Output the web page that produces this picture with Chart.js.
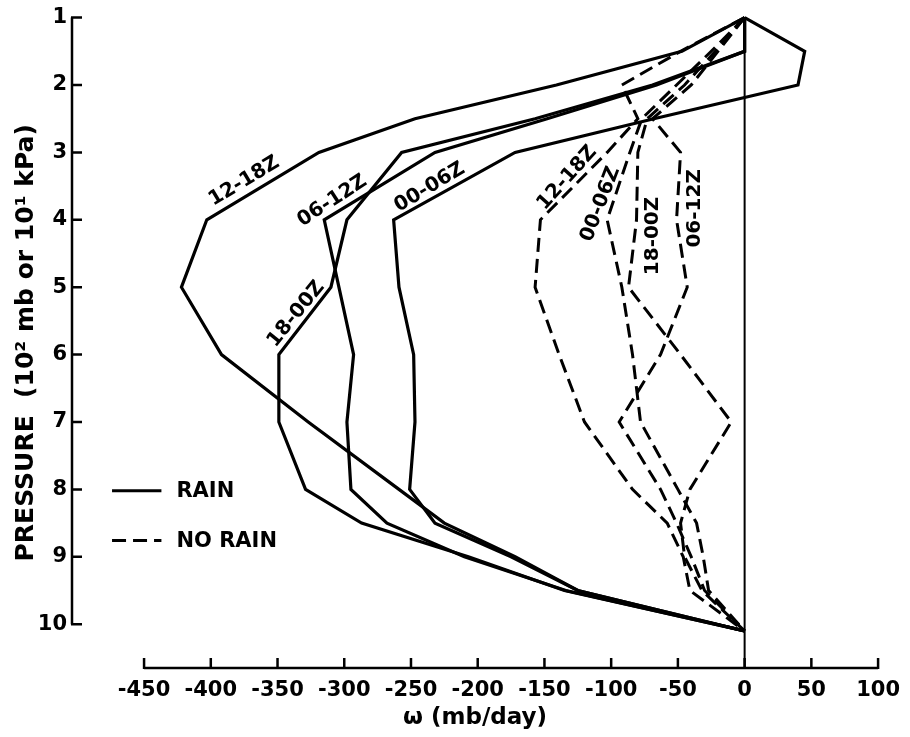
<!DOCTYPE html>
<html>
<head>
<meta charset="utf-8">
<title>Vertical motion profiles</title>
<script src="https://cdn.jsdelivr.net/npm/chart.js@4.4.0/dist/chart.umd.min.js"></script>
<style>
  html, body { margin: 0; padding: 0; background: #fff; }
</style>
</head>
<body>
<canvas id="omegaChart" width="910" height="737"></canvas>
<script>
// pressure levels, 10^2 mb
const levels = [1, 1.5, 2, 2.5, 3, 4, 5, 6, 7, 8, 8.5, 9, 9.5, 10.1];

// omega (mb/day) on rain days, by time window
const rain1218 = [0, -47, -141, -247, -319, -403, -422, -392, -327, -259, -225, -172, -125, 0];
const rain0612 = [0, 0, -66, -148, -232, -315, -304, -293, -298, -295, -268, -210, -134, 0];
const rain0006 = [0, 45, 40, -68, -172, -263, -259, -248, -247, -251, -232, -175, -125, 0];
const rain1800 = [0, 0, -69, -157, -257, -298, -310, -349, -349, -329, -287, -207, -135, 0];

// omega (mb/day) on days without rain
const dry1218 = [0, -48, -92, -80, -103, -153, -157, -139, -120, -84, -58, -46, -41, 0];
const dry0006 = [0, -25, -51, -77, -86, -103, -92, -84, -78, -50, -36, -31, -27, 0];
const dry1800 = [0, -22, -45, -73, -80, -81, -87, -48, -10, -41, -48, -45, -32, 0];
const dry0612 = [0, -20, -40, -69, -48, -51, -43, -63, -94, -63, -51, -40, -30, 0];

const xTicks = [-450, -400, -350, -300, -250, -200, -150, -100, -50, 0, 50, 100];
const yTicks = [1, 2, 3, 4, 5, 6, 7, 8, 9, 10];

const FONT = '"DejaVu Sans", sans-serif';

function profile(values) {
    return levels.map((p, i) => ({ x: values[i], y: p }));
}

function solid(values) {
    return { data: profile(values), borderColor: '#000', borderWidth: 3.2, showLine: true, pointRadius: 0, clip: 10 };
}

function dashed(values) {
    return { data: profile(values), borderColor: '#000', borderWidth: 3, borderDash: [14, 7], showLine: true, pointRadius: 0, clip: 10 };
}

// curve labels: text, anchor (omega, pressure), rotation in degrees
const curveLabels = [
    ['12-18Z', -375, 3.43, -31],
    ['06-12Z', -309, 3.72, -33],
    ['00-06Z', -236, 3.52, -31],
    ['18-00Z', -336, 5.40, -51],
    ['12-18Z', -133, 3.38, -48],
    ['00-06Z', -108, 3.77, -69],
    ['18-00Z', -69, 4.24, -90],
    ['06-12Z', -37, 3.83, -90]
];

// axes, zero line, curve labels and key
const decorations = {
    id: 'decorations',
    afterDatasetsDraw(chart) {
        const { ctx, chartArea, scales: { x, y } } = chart;
        ctx.save();
        ctx.strokeStyle = '#000';
        ctx.fillStyle = '#000';
        ctx.lineCap = 'butt';

        // left axis with ticks pointing inwards
        const ax = chartArea.left;
        ctx.lineWidth = 2.5;
        ctx.beginPath();
        ctx.moveTo(ax, y.getPixelForValue(1));
        ctx.lineTo(ax, y.getPixelForValue(10));
        yTicks.forEach(v => {
            const py = y.getPixelForValue(v);
            ctx.moveTo(ax - 1, py);
            ctx.lineTo(ax + 10, py);
        });
        ctx.stroke();

        // bottom axis with ticks pointing up
        const ay = chartArea.bottom;
        ctx.beginPath();
        ctx.moveTo(x.getPixelForValue(xTicks[0]), ay);
        ctx.lineTo(x.getPixelForValue(xTicks[xTicks.length - 1]), ay);
        xTicks.forEach(v => {
            const px = x.getPixelForValue(v);
            ctx.moveTo(px, ay + 1);
            ctx.lineTo(px, ay - 10);
        });
        ctx.stroke();

        // omega = 0 reference line
        ctx.lineWidth = 2;
        ctx.beginPath();
        ctx.moveTo(x.getPixelForValue(0), y.getPixelForValue(1));
        ctx.lineTo(x.getPixelForValue(0), ay);
        ctx.stroke();

        // labels along the curves
        ctx.font = 'bold 20px ' + FONT;
        ctx.textAlign = 'center';
        ctx.textBaseline = 'middle';
        curveLabels.forEach(([text, w, p, deg]) => {
            ctx.save();
            ctx.translate(x.getPixelForValue(w), y.getPixelForValue(p));
            ctx.rotate(deg * Math.PI / 180);
            ctx.fillText(text, 0, 0);
            ctx.restore();
        });

        // key
        const kx0 = x.getPixelForValue(-474);
        const kx1 = x.getPixelForValue(-437);
        ctx.font = 'bold 21px ' + FONT;
        ctx.textAlign = 'left';
        [['RAIN', 8.02, []], ['NO RAIN', 8.76, [14, 7]]].forEach(([text, p, dash]) => {
            const py = y.getPixelForValue(p);
            ctx.lineWidth = 3;
            ctx.setLineDash(dash);
            ctx.beginPath();
            ctx.moveTo(kx0, py);
            ctx.lineTo(kx1, py);
            ctx.stroke();
            ctx.setLineDash([]);
            ctx.fillText(text, kx1 + 15, py + 1);
        });
        ctx.restore();
    }
};

new Chart(document.getElementById('omegaChart'), {
    type: 'scatter',
    data: {
        datasets: [
            solid(rain1218), solid(rain0612), solid(rain0006), solid(rain1800),
            dashed(dry1218), dashed(dry0006), dashed(dry1800), dashed(dry0612)
        ]
    },
    options: {
        responsive: false,
        animation: false,
        layout: { padding: { top: 16, right: 28, left: 0, bottom: 0 } },
        plugins: { legend: { display: false }, tooltip: { enabled: false } },
        scales: {
            x: {
                type: 'linear',
                min: -504,
                max: 100,
                grid: { display: false, drawTicks: false },
                border: { display: false },
                afterBuildTicks: s => { s.ticks = xTicks.map(v => ({ value: v })); },
                afterFit: s => { s.height = 69; },
                ticks: { color: '#000', font: { family: FONT, size: 21, weight: 'bold' }, padding: 10, maxRotation: 0, autoSkip: false },
                title: { display: true, text: 'ω (mb/day)', color: '#000', font: { family: FONT, size: 23, weight: 'bold' }, padding: { top: 0, bottom: 5 } }
            },
            y: {
                type: 'linear',
                reverse: true,
                min: 1,
                max: 10.65,
                grid: { display: false, drawTicks: false },
                border: { display: false },
                afterBuildTicks: s => { s.ticks = yTicks.map(v => ({ value: v })); },
                afterFit: s => { s.width = 72; },
                ticks: { color: '#000', font: { family: FONT, size: 21, weight: 'bold' }, padding: 5 },
                title: { display: true, text: 'PRESSURE  (10² mb or 10¹ kPa)', color: '#000', font: { family: FONT, size: 25, weight: 'bold' }, padding: { top: 11, bottom: 0 } }
            }
        }
    },
    plugins: [decorations]
});
</script>
</body>
</html>
